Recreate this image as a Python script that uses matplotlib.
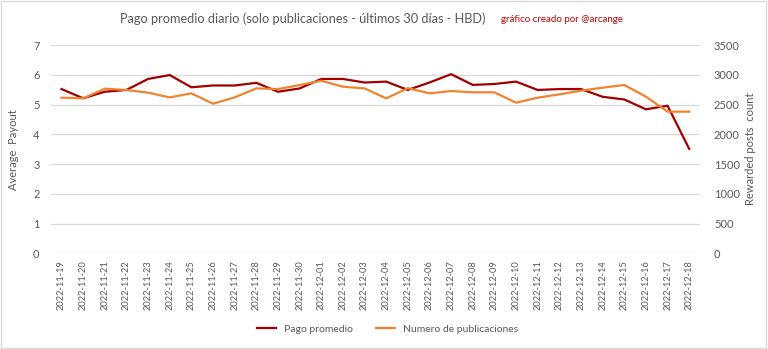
import matplotlib
matplotlib.use("Agg")
import matplotlib.pyplot as plt
import numpy as np

plt.rcParams['font.family'] = ['Lato', 'DejaVu Sans']

fechas = ["2022-11-19", "2022-11-20", "2022-11-21", "2022-11-22", "2022-11-23",
          "2022-11-24", "2022-11-25", "2022-11-26", "2022-11-27", "2022-11-28",
          "2022-11-29", "2022-11-30", "2022-12-01", "2022-12-02", "2022-12-03",
          "2022-12-04", "2022-12-05", "2022-12-06", "2022-12-07", "2022-12-08",
          "2022-12-09", "2022-12-10", "2022-12-11", "2022-12-12", "2022-12-13",
          "2022-12-14", "2022-12-15", "2022-12-16", "2022-12-17", "2022-12-18"]

pago_promedio = [5.52, 5.21, 5.43, 5.49, 5.86, 5.99, 5.58, 5.64, 5.64, 5.73,
                 5.43, 5.54, 5.86, 5.86, 5.74, 5.77, 5.49, 5.74, 6.02, 5.66,
                 5.69, 5.77, 5.49, 5.52, 5.52, 5.26, 5.17, 4.84, 4.96, 3.51]

num_publicaciones = [2615, 2604, 2766, 2744, 2699, 2620, 2688, 2514, 2620, 2771,
                     2760, 2827, 2900, 2800, 2771, 2604, 2775, 2688, 2727, 2705,
                     2705, 2531, 2615, 2671, 2733, 2783, 2828, 2632, 2380, 2380]

rojo = '#a00000'
naranja = '#f0832f'
gris = '#595959'

fig = plt.figure(figsize=(7.68, 3.49), dpi=100)
ax = fig.add_axes([0.066, 0.2742, 0.8455, 0.5968])
ax2 = ax.twinx()

x = np.arange(len(fechas))
l1, = ax.plot(x, pago_promedio, color=rojo, lw=1.6, label='Pago promedio')
l2, = ax2.plot(x, num_publicaciones, color=naranja, lw=1.6, label='Numero de publicaciones')

ax.set_xlim(-0.5, len(fechas) - 0.5)
ax.set_ylim(0, 7)
ax2.set_ylim(0, 3500)
ax.set_yticks(range(0, 8))
ax2.set_yticks(range(0, 3501, 500))
ax.set_xticks(x)
ax.set_xticklabels(fechas, rotation=90, fontsize=6.7, color=gris)
ax.yaxis.grid(True, color='#d9d9d9', lw=0.9)
ax.set_axisbelow(True)

for a in (ax, ax2):
    for s in a.spines.values():
        s.set_visible(False)
    a.tick_params(length=0, labelsize=8, labelcolor=gris)
ax.tick_params(axis='y', pad=8)
ax2.tick_params(axis='y', pad=10)
ax.tick_params(axis='x', pad=5, labelsize=6.7)

ax.set_ylabel('Average  Payout', fontsize=8, color=gris, labelpad=10)
ax2.set_ylabel('Rewarded posts  count', fontsize=8, color=gris, labelpad=4)

fig.text(0.394, 0.945, 'Pago promedio diario (solo publicaciones - últimos 30 días - HBD)',
         ha='center', va='center', fontsize=9.2, color=gris)
fig.text(0.652, 0.945, 'gráfico creado por @arcange', ha='left', va='center',
         fontsize=7, color='#c00000')

fig.legend(handles=[l1, l2], loc='center', bbox_to_anchor=(0.505, 0.057), ncol=2,
           frameon=False, fontsize=7.5, handlelength=1.8, columnspacing=2.2, labelcolor=gris)

fig.patches.append(plt.Rectangle((0.001, 0.002), 0.997, 0.995, transform=fig.transFigure,
                                 fill=False, edgecolor='#d9d9d9', lw=1))

fig.savefig('out.png', dpi=100)
